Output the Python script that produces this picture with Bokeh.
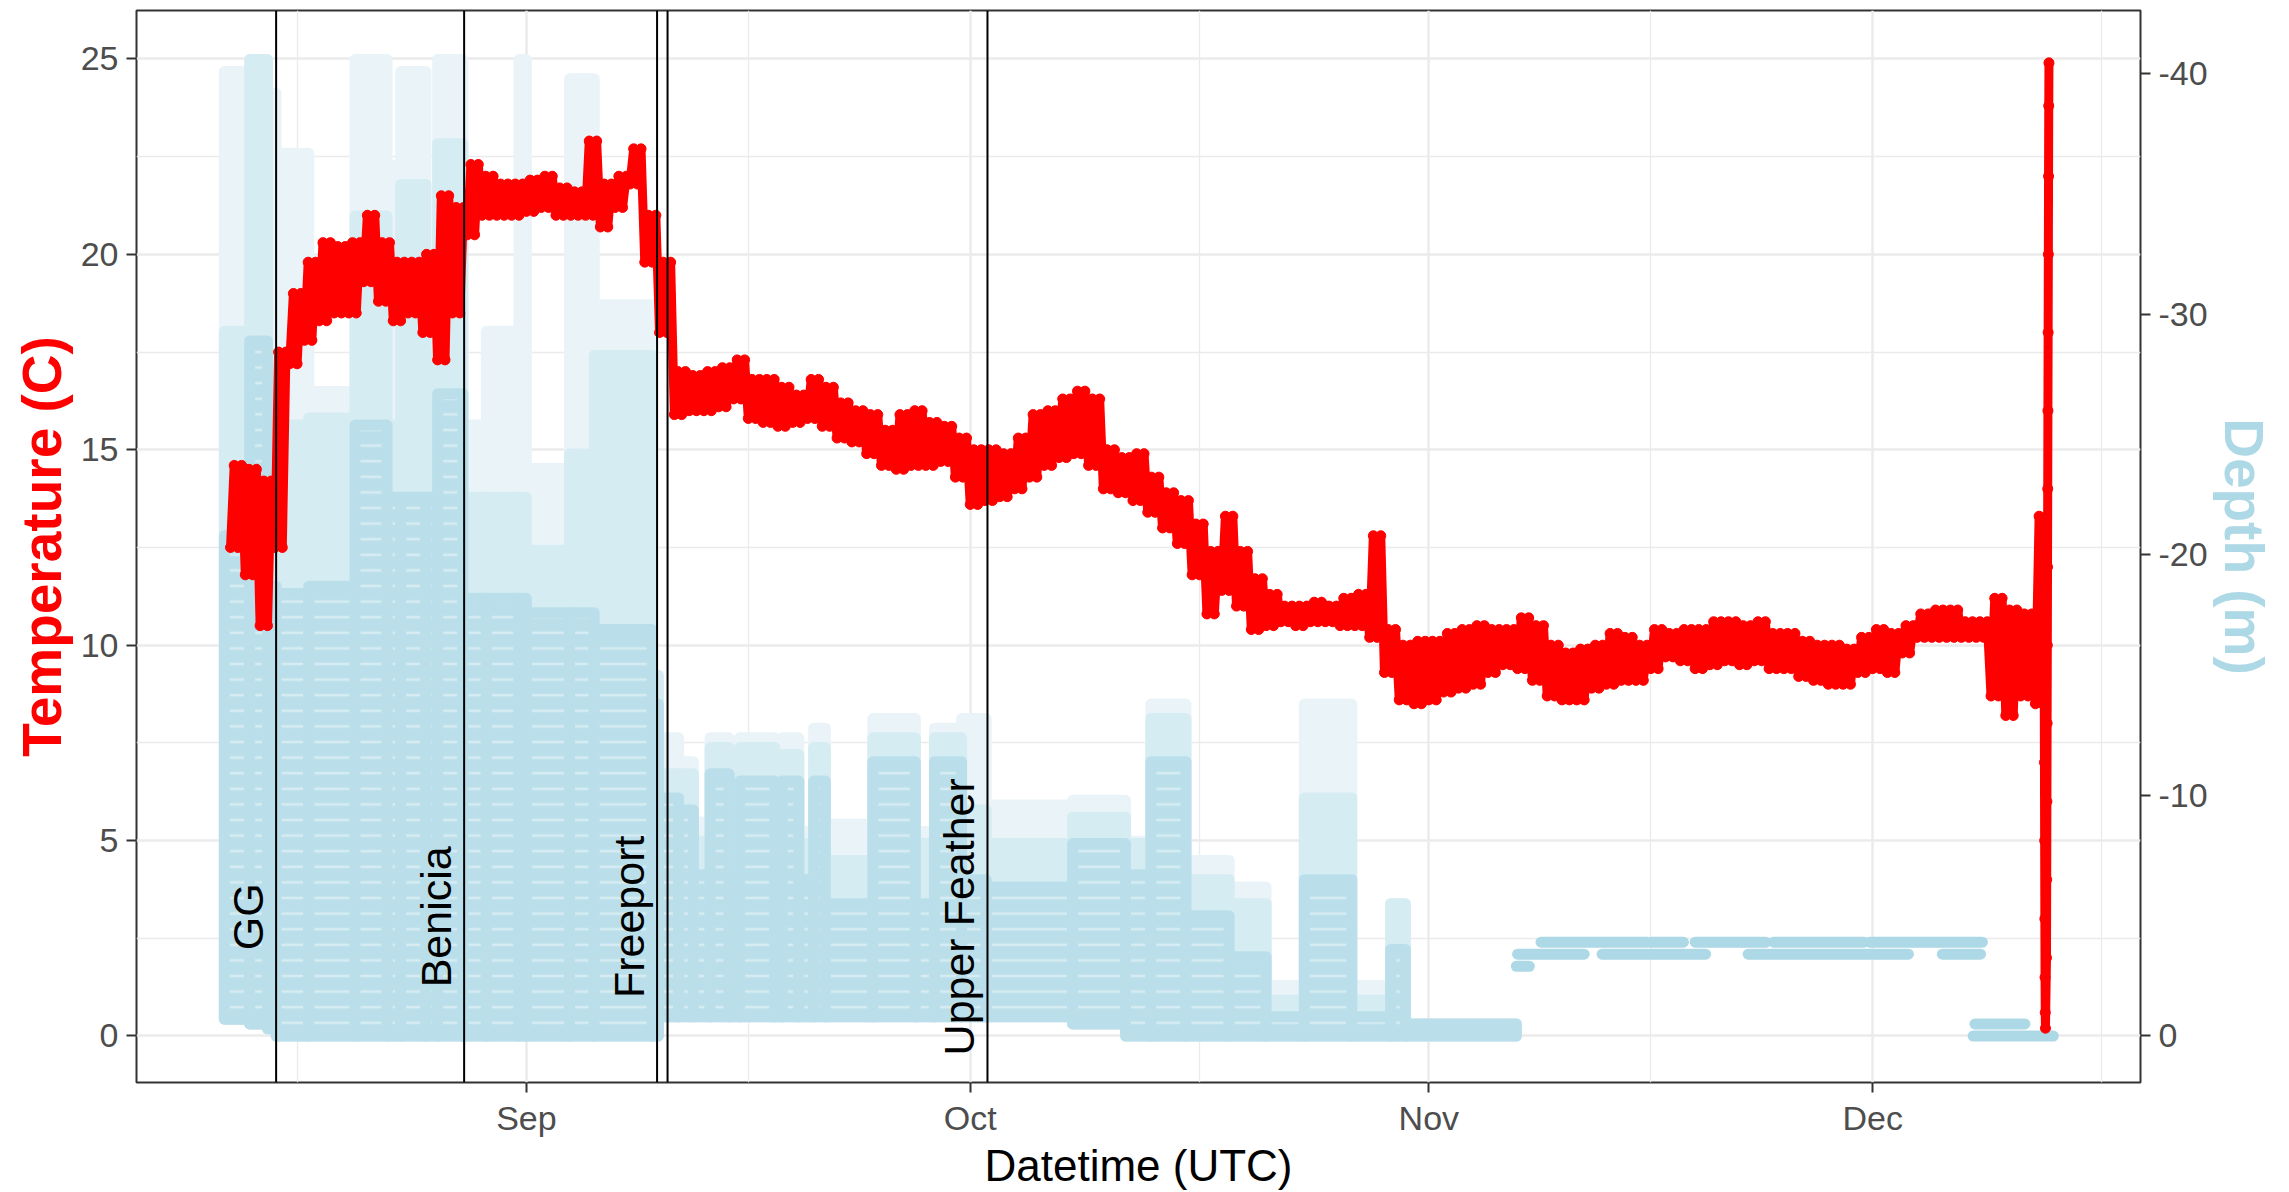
import math
import numpy as np
import pandas as pd
from bokeh.plotting import figure
from bokeh.models import Range1d, LinearAxis, FixedTicker, DatetimeTickFormatter, Span
from bokeh.core.properties import value
from bokeh.embed import file_html
from bokeh.resources import INLINE

# ---------------- data ----------------
# daily temperature envelope (deg C), one value per day starting at this date
temp_first_day = "2020-08-12"
temp_high = [14.6, 14.5, 14.2, 17.5, 19.0, 19.8, 20.3, 20.2, 20.3, 21.0,
             20.3, 19.8, 19.8, 20.0, 21.5, 21.2, 22.3, 22.0, 21.8, 21.8,
             21.9, 22.0, 21.7, 21.6, 22.9, 21.8, 22.0, 22.7, 21.0, 19.8,
             17.0, 16.9, 17.0, 17.1, 17.3, 16.8, 16.8, 16.6, 16.4, 16.8,
             16.6, 16.2, 16.0, 15.9, 15.5, 15.9, 16.0, 15.7, 15.6, 15.3,
             15.0, 15.0, 14.9, 15.3, 15.9, 16.0, 16.3, 16.5, 16.3, 15.0,
             14.8, 14.9, 14.3, 13.9, 13.7, 13.1, 12.4, 13.3, 12.4, 11.7,
             11.3, 11.0, 11.0, 11.1, 11.0, 11.2, 11.3, 12.8, 10.4, 10.0,
             10.1, 10.1, 10.3, 10.4, 10.5, 10.4, 10.4, 10.7, 10.5, 10.0,
             9.8, 9.9, 10.0, 10.3, 10.2, 10.0, 10.4, 10.3, 10.4, 10.4,
             10.6, 10.6, 10.5, 10.6, 10.3, 10.3, 10.1, 10.0, 10.0, 9.9,
             10.2, 10.4, 10.3, 10.5, 10.8, 10.9, 10.9, 10.6, 10.6, 11.2,
             10.9, 10.8, 13.3]
temp_low = [12.5, 11.8, 10.5, 12.5, 17.2, 17.8, 18.3, 18.5, 18.5, 19.3,
            18.8, 18.3, 18.5, 18.0, 17.3, 18.5, 20.5, 21.0, 21.0, 21.0,
            21.1, 21.2, 21.0, 21.0, 21.0, 20.7, 21.2, 21.8, 19.8, 18.0,
            15.9, 16.0, 16.0, 16.1, 16.3, 15.8, 15.7, 15.6, 15.7, 15.8,
            15.6, 15.3, 15.2, 14.9, 14.6, 14.5, 14.6, 14.6, 14.7, 14.3,
            13.6, 13.7, 13.8, 14.0, 14.3, 14.6, 14.8, 14.9, 14.6, 14.0,
            13.9, 13.7, 13.4, 13.0, 12.6, 11.8, 10.8, 11.4, 11.0, 10.4,
            10.5, 10.6, 10.5, 10.6, 10.6, 10.5, 10.5, 10.2, 9.3, 8.6,
            8.5, 8.6, 8.8, 8.9, 9.0, 9.3, 9.5, 9.4, 9.1, 8.7,
            8.6, 8.6, 8.9, 9.0, 9.1, 9.1, 9.4, 9.7, 9.6, 9.4,
            9.5, 9.6, 9.5, 9.6, 9.4, 9.4, 9.2, 9.1, 9.0, 9.0,
            9.3, 9.4, 9.3, 9.8, 10.2, 10.2, 10.2, 10.2, 10.2, 8.7,
            8.2, 8.7, 8.5]
# final profile when the tag left the water
profile_time = ["2020-12-12 14:00", "2020-12-12 14:20", "2020-12-12 14:40", "2020-12-12 15:00",
                "2020-12-12 15:20", "2020-12-12 15:40", "2020-12-12 16:00", "2020-12-12 16:20",
                "2020-12-12 18:00", "2020-12-12 18:20", "2020-12-12 18:40", "2020-12-12 19:00",
                "2020-12-12 19:20", "2020-12-12 19:40", "2020-12-12 20:00", "2020-12-12 20:20",
                "2020-12-12 20:40", "2020-12-12 21:00", "2020-12-12 21:20", "2020-12-12 21:40",
                "2020-12-12 22:00"]
profile_temp = [11.0, 9.0, 7.0, 5.0, 3.0, 1.5, 0.6, 0.2,
                2.0, 4.0, 6.0, 8.0, 10.0, 12.0, 14.0, 16.0,
                18.0, 20.0, 22.0, 23.8, 24.9]

# depth observations (m) summarised in time bins: shallowest, dense limit, medium limit, deepest
depth_edges = ["2020-08-11 14:00", "2020-08-13 07:00", "2020-08-14 12:00", "2020-08-15 02:00",
               "2020-08-17 07:00", "2020-08-20 10:00", "2020-08-22 14:00", "2020-08-23 12:00",
               "2020-08-25 05:00", "2020-08-26 00:00", "2020-08-27 17:00", "2020-08-29 07:00",
               "2020-08-31 12:00", "2020-09-01 00:00", "2020-09-03 22:00", "2020-09-05 14:00",
               "2020-09-09 12:00", "2020-09-09 22:00", "2020-09-11 07:00", "2020-09-12 07:00",
               "2020-09-13 10:00", "2020-09-14 17:00", "2020-09-15 10:00", "2020-09-17 19:00",
               "2020-09-18 07:00", "2020-09-19 10:00", "2020-09-20 10:00", "2020-09-21 05:00",
               "2020-09-24 10:00", "2020-09-27 07:00", "2020-09-28 14:00", "2020-09-30 10:00",
               "2020-10-02 02:00", "2020-10-07 22:00", "2020-10-11 12:00", "2020-10-13 05:00",
               "2020-10-15 14:00", "2020-10-18 12:00", "2020-10-21 00:00", "2020-10-23 14:00",
               "2020-10-26 19:00", "2020-10-29 10:00", "2020-10-30 10:00", "2020-11-06 22:00"]
depth_shallow = [-0.7, -0.5, -0.3, 0.0, 0.0, 0.0, 0.0, 0.0, 0.0, 0.0,
                 0.0, 0.0, 0.0, 0.0, 0.0, 0.0, 0.0, -0.8, -0.8, -0.8,
                 -0.8, -0.8, -0.8, -0.8, -0.8, -0.8, -0.8, -0.8, -0.8, -0.8,
                 -0.8, -0.8, -0.8, -0.5, 0.0, 0.0, 0.0, 0.0, 0.0, 0.0,
                 0.0, 0.0, 0.0]
depth_dense = [-20.8, -28.9, -18.7, -18.4, -18.7, -25.4, -22.4, -22.4, -22.4, -26.7,
               -18.2, -18.2, -18.2, -17.6, -17.6, -16.9, -13.8, -9.9, -9.4, -6.7,
               -10.9, -6.5, -10.6, -7.3, -10.6, -6.5, -10.6, -5.5, -11.4, -5.5,
               -11.4, -6.5, -6.2, -8.0, -6.7, -11.4, -5.0, -3.3, -0.8, -6.5,
               -0.8, -3.6, -0.5]
depth_medium = [-29.3, -40.6, -25.4, -25.4, -25.7, -34.1, -25.4, -35.4, -28.3, -37.1,
                -22.4, -22.4, -22.4, -20.2, -24.2, -28.3, -15.0, -10.9, -10.9, -8.1,
                -12.0, -8.1, -12.0, -8.8, -11.7, -8.0, -12.0, -7.3, -12.4, -8.0,
                -12.4, -9.4, -8.0, -9.1, -8.0, -13.2, -6.5, -5.5, -1.5, -9.9,
                -1.5, -5.5, -0.5]
depth_deepest = [-40.1, -40.6, -39.2, -36.7, -26.8, -40.6, -36.2, -40.1, -31.7, -40.6,
                 -25.4, -29.3, -40.6, -23.6, -39.8, -30.4, -15.0, -12.4, -11.4, -8.9,
                 -12.4, -8.8, -12.4, -9.4, -12.4, -8.5, -12.8, -8.8, -13.2, -8.5,
                 -12.8, -13.2, -9.6, -9.8, -8.1, -13.8, -7.3, -6.2, -2.1, -13.8,
                 -2.1, -5.5, -0.5]

# depth readings that sit on steady levels (m)
band_start = ["2020-11-06 22:00", "2020-11-08 14:00", "2020-11-16 00:00", "2020-11-19 00:00",
              "2020-11-24 07:00", "2020-11-30 19:00", "2020-11-07 00:00", "2020-11-12 17:00",
              "2020-11-22 14:00", "2020-12-05 17:00", "2020-12-07 22:00", "2020-12-07 19:00"]
band_end = ["2020-11-07 19:00", "2020-11-15 19:00", "2020-11-18 05:00", "2020-11-23 19:00",
            "2020-11-30 10:00", "2020-12-08 10:00", "2020-11-11 12:00", "2020-11-19 17:00",
            "2020-12-03 10:00", "2020-12-08 07:00", "2020-12-11 07:00", "2020-12-13 05:00"]
band_depth = [-2.9, -3.9, -3.9, -3.9, -3.9, -3.9, -3.4, -3.4, -3.4, -3.4, -0.5, 0.0]

# receiver stations
station_name = ["GG", "Benicia", "Freeport", "Upper Feather"]
station_time = ["2020-08-15 02:00", "2020-08-27 19:00", "2020-09-09 20:00", "2020-10-02 04:00"]
extra_line_time = ["2020-09-10 13:00"]

month_ticks = ["2020-09-01", "2020-10-01", "2020-11-01", "2020-12-01"]
month_minor = ["2020-08-16 12:00", "2020-09-16", "2020-10-16 12:00", "2020-11-16", "2020-12-16 12:00"]
temp_ticks = [0, 5, 10, 15, 20, 25]
temp_minor = [2.5, 7.5, 12.5, 17.5, 22.5]
depth_ticks = [0, -10, -20, -30, -40]
depth_per_degree = -1.625   # secondary axis: depth = temperature * -1.625


# ---------------- helpers ----------------
def ms(t):
    return (pd.Timestamp(t) - pd.Timestamp("1970-01-01")) / pd.Timedelta(milliseconds=1)


def dt64(lst):
    return np.array([np.datetime64(pd.Timestamp(t)) for t in lst], dtype="datetime64[ms]")


FONT = "Liberation Sans"

x_start, x_end = "2020-08-05 15:30", "2020-12-19 02:30"
y_start, y_end = -1.19, 26.24

p = figure(width=2289, height=1192, x_axis_type="datetime",
           x_range=Range1d(dt64([x_start])[0], dt64([x_end])[0]),
           y_range=Range1d(y_start, y_end),
           output_backend="svg", toolbar_location=None,
           min_border_left=136, min_border_right=149, min_border_top=10, min_border_bottom=108)
p.extra_y_ranges = {"depth": Range1d(start=y_start * depth_per_degree, end=y_end * depth_per_degree)}

p.background_fill_color = "white"
p.border_fill_color = "white"
p.outline_line_color = "#333333"
p.outline_line_width = 2

# grids
p.xgrid.ticker = FixedTicker(ticks=[ms(t) for t in month_ticks], minor_ticks=[ms(t) for t in month_minor])
p.ygrid.ticker = FixedTicker(ticks=temp_ticks, minor_ticks=temp_minor)
for g in (p.xgrid[0], p.ygrid[0]):
    g.grid_line_color = "#EBEBEB"
    g.grid_line_width = 2.5
    g.minor_grid_line_color = "#EBEBEB"
    g.minor_grid_line_width = 1.3

# axes
p.xaxis.ticker = FixedTicker(ticks=[ms(t) for t in month_ticks])
p.xaxis.formatter = DatetimeTickFormatter(months="%b", days="%b", hours="%b", years="%b")
p.yaxis.ticker = FixedTicker(ticks=temp_ticks)

right = LinearAxis(y_range_name="depth", ticker=FixedTicker(ticks=depth_ticks),
                   major_label_overrides={t: str(t) for t in depth_ticks})
p.add_layout(right, "right")

for ax in (p.xaxis[0], p.yaxis[0], right):
    ax.axis_line_color = None
    ax.major_tick_line_color = "#333333"
    ax.major_tick_line_width = 2
    ax.major_tick_out = 10
    ax.major_tick_in = 0
    ax.minor_tick_line_color = None
    ax.major_label_text_font = FONT
    ax.major_label_text_font_size = "34px"
    ax.major_label_text_color = "#4D4D4D"
    ax.axis_label_text_font = FONT
    ax.major_label_standoff = 8

p.xaxis.axis_label = "Datetime (UTC)"
p.xaxis.axis_label_text_font_size = "44px"
p.xaxis.axis_label_text_font_style = "normal"
p.xaxis.axis_label_text_color = "black"
p.xaxis.axis_label_standoff = 1
p.xaxis.major_label_standoff = 6

p.yaxis.axis_label = "Temperature (C)"
p.yaxis.axis_label_text_font_size = "55px"
p.yaxis.axis_label_text_font_style = "bold"
p.yaxis.axis_label_text_color = "red"
p.yaxis.axis_label_standoff = 5

right.axis_label = "Depth (m)"
right.axis_label_text_font_size = "55px"
right.axis_label_text_font_style = "bold"
right.axis_label_text_color = "#ADD8E6"
right.axis_label_standoff = 2

# ---------------- depth cloud ----------------
left_edges = dt64(depth_edges[:-1])
right_edges = dt64(depth_edges[1:])
tiers = [(depth_deepest, "#EAF4F8", None), (depth_medium, "#D6ECF3", None), (depth_dense, "#BBDFEA", "horizontal_line")]
for tops, col, hatch in tiers:
    kw = {}
    if hatch:
        kw = dict(hatch_pattern=hatch, hatch_color="white", hatch_scale=15.6, hatch_weight=2.5, hatch_alpha=0.4)
    p.quad(left=left_edges, right=right_edges, bottom=depth_shallow, top=tops,
           y_range_name="depth", fill_color=col, line_color=col, line_width=11, line_join="round", **kw)

p.segment(x0=dt64(band_start), y0=band_depth, x1=dt64(band_end), y1=band_depth,
          y_range_name="depth", line_color="#ADD8E6", line_width=11, line_cap="round")

# ---------------- temperature ----------------
days = pd.date_range(temp_first_day, periods=len(temp_high), freq="D")
tx, ty = [], []
for d, lo, hi in zip(days, temp_low, temp_high):
    tx += [d, d + pd.Timedelta(hours=6), d + pd.Timedelta(hours=12), d + pd.Timedelta(hours=18)]
    ty += [lo, hi, lo, hi]
tx += [pd.Timestamp(t) for t in profile_time]
ty += profile_temp
tx = dt64(tx)

p.line(tx, ty, line_color="red", line_width=9, line_join="round")
p.scatter(tx, ty, size=10, fill_color="red", line_color="red")

# ---------------- stations ----------------
for t in station_time + extra_line_time:
    p.add_layout(Span(location=ms(t), dimension="height", line_color="black", line_width=2))

p.text(x=dt64(station_time), y=[3.05] * len(station_time), text=station_name,
       angle=math.pi / 2, text_align="center", text_baseline="bottom", x_offset=-4,
       text_font=value(FONT), text_font_size="43px", text_color="black")

open("out.html", "w").write(file_html(p, INLINE))
